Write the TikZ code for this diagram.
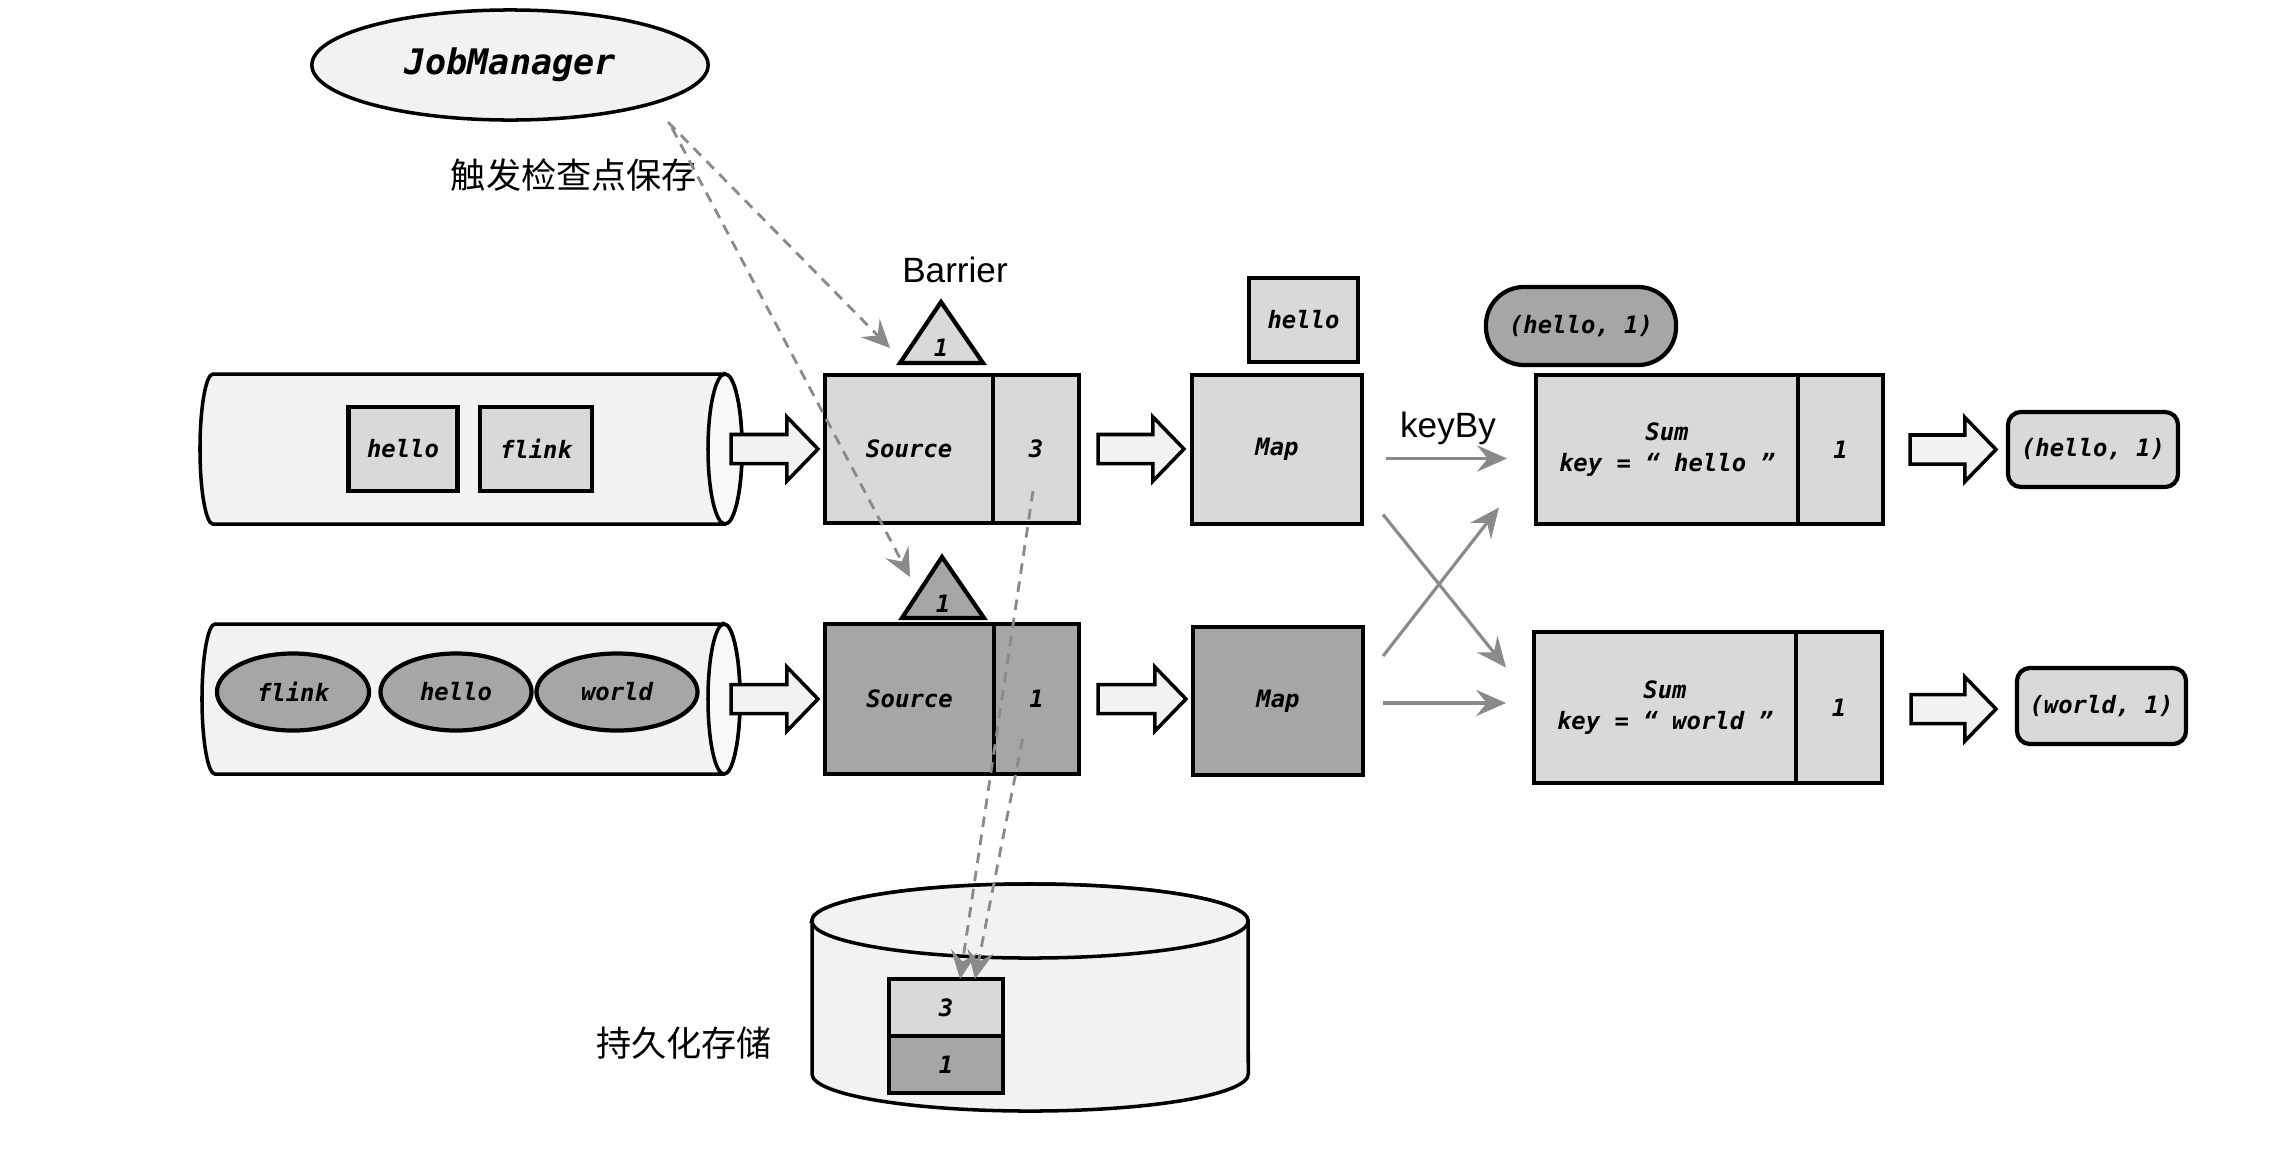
\documentclass[tikz,border=0pt]{standalone}
\usepackage{fontspec}
\usetikzlibrary{arrows.meta,calc,shapes.geometric}
\newfontfamily\monofont{DejaVu Sans Mono}
\newfontfamily\cjkfont{Noto Sans CJK SC}
\newfontfamily\labelfont{Liberation Sans}
\definecolor{boxlight}{HTML}{D9D9D9}
\definecolor{boxdark}{HTML}{A6A6A6}
\definecolor{pipefill}{HTML}{F2F2F2}
\definecolor{capfill}{HTML}{F8F8F8}
\definecolor{linkgray}{HTML}{8A8A8A}

% hollow block arrow between two points on the same level
\newcommand\fatarrow[2]{%
  \draw[fatarr] let \p1=#1, \p2=#2 in
    (\x1,\y1+0.145cm) -- (\x2-0.31cm,\y1+0.145cm) -- (\x2-0.31cm,\y1+0.32cm)
    -- (\x2,\y1) -- (\x2-0.31cm,\y1-0.32cm) -- (\x2-0.31cm,\y1-0.145cm)
    -- (\x1,\y1-0.145cm) -- cycle;}

\begin{document}
\begin{tikzpicture}[x=0.01cm,y=-0.01cm,
  every node/.style={inner sep=0pt, outer sep=0pt},
  codetext/.style={font=\monofont\bfseries\itshape\fontsize{6.8}{9}\selectfont},
  blk/.style={draw=black, line width=1.2pt, fill=boxlight, codetext, align=center},
  blkdark/.style={blk, fill=boxdark},
  token/.style={draw=black, line width=1.2pt, fill=boxdark, ellipse, codetext},
  outline/.style={draw=black, line width=1pt, fill=pipefill},
  fatarr/.style={draw=black, line width=1pt, fill=pipefill, line join=miter},
  flow/.style={draw=linkgray, line width=0.9pt, -{Stealth[length=8.5pt,width=7.5pt,inset=3pt]}},
  trig/.style={draw=linkgray, line width=0.8pt, dash pattern=on 3pt off 2.2pt,
               -{Stealth[length=8pt,width=7.5pt,inset=3pt]}},
  lbl/.style={font=\labelfont\fontsize{10}{12}\selectfont},
  cjklbl/.style={font=\cjkfont\fontsize{10}{12}\selectfont}]

\useasboundingbox (0,0) rectangle (2283,1157);

% ---------- job manager ----------
\node[draw=black, line width=1pt, fill=pipefill, ellipse,
      minimum width=3.96cm, minimum height=1.10cm,
      font=\monofont\bfseries\itshape\fontsize{10}{12}\selectfont] (jm) at (510,65) {JobManager};
\node[cjklbl] (trigger) at (574,175) {触发检查点保存};

% ---------- upper pipeline ----------
\draw[outline] (725,374) -- (213,374)
  arc[start angle=90, end angle=270, x radius=0.13cm, y radius=0.75cm]
  -- (725,524) arc[start angle=-90, end angle=90, x radius=0.17cm, y radius=0.75cm] -- cycle;
\draw[outline, fill=capfill] (725,449) ellipse[x radius=0.17cm, y radius=0.75cm];
\coordinate (pipeAout) at (731,449);
\node[blk, minimum width=1.09cm, minimum height=0.84cm] (tokA1) at (403,449) {hello};
\node[blk, minimum width=1.12cm, minimum height=0.84cm] (tokA2) at (536,449) {flink};

\node[blk, minimum width=1.68cm, minimum height=1.48cm] (srcA) at (909,449) {Source};
\node[blk, minimum width=0.86cm, minimum height=1.48cm] (stA) at (1036,449) {3};
\draw[draw=black, line width=1.2pt, fill=boxlight] (941,302) -- (983,363) -- (900,363) -- cycle;
\node[codetext] (trA) at (941,348) {1};
\node[lbl, anchor=base] (barrier) at (955,282) {Barrier};

\node[blk, minimum width=1.70cm, minimum height=1.49cm] (mapA) at (1277,449.5) {Map};
\node[blk, minimum width=1.09cm, minimum height=0.84cm] (recA) at (1303.5,320) {hello};

\node[blk, minimum width=2.62cm, minimum height=1.49cm] (sumA) at (1667,449.5) {Sum\\key = “ hello ”};
\node[blk, minimum width=0.85cm, minimum height=1.49cm] (stSumA) at (1840.5,449.5) {1};
\node[blkdark, minimum width=1.90cm, minimum height=0.78cm, rounded corners=0.38cm] (pairA) at (1581,326) {(hello, 1)};
\node[blk, minimum width=1.70cm, minimum height=0.75cm, rounded corners=0.13cm] (outA) at (2093,449.5) {(hello, 1)};

% ---------- lower pipeline ----------
\draw[outline] (724,624) -- (215,624)
  arc[start angle=90, end angle=270, x radius=0.13cm, y radius=0.75cm]
  -- (724,774) arc[start angle=-90, end angle=90, x radius=0.16cm, y radius=0.75cm] -- cycle;
\draw[outline, fill=capfill] (724,699) ellipse[x radius=0.16cm, y radius=0.75cm];
\coordinate (pipeBout) at (731,699);
\node[token, minimum width=1.52cm, minimum height=0.77cm] (tokB1) at (293,692) {flink};
\node[token, minimum width=1.51cm, minimum height=0.77cm] (tokB2) at (456,692) {hello};
\node[token, minimum width=1.61cm, minimum height=0.77cm] (tokB3) at (617,692) {world};

\node[blkdark, minimum width=1.69cm, minimum height=1.50cm] (srcB) at (909.5,699) {Source};
\node[blkdark, minimum width=0.85cm, minimum height=1.50cm] (stB) at (1036.5,699) {1};
\draw[draw=black, line width=1.2pt, fill=boxdark] (942,557) -- (984,618) -- (902,618) -- cycle;
\node[codetext] (trB) at (943,604) {1};

\node[blkdark, minimum width=1.70cm, minimum height=1.48cm] (mapB) at (1278,701) {Map};

\node[blk, minimum width=2.62cm, minimum height=1.51cm] (sumB) at (1665,707.5) {Sum\\key = “ world ”};
\node[blk, minimum width=0.86cm, minimum height=1.51cm] (stSumB) at (1839,707.5) {1};
\node[blk, minimum width=1.69cm, minimum height=0.76cm, rounded corners=0.13cm] (outB) at (2101.5,706) {(world, 1)};

% ---------- durable storage ----------
\draw[outline] (812,921) -- (812,1074)
  arc[start angle=180, end angle=360, x radius=2.18cm, y radius=0.37cm]
  -- (1248,921) arc[start angle=0, end angle=180, x radius=2.18cm, y radius=0.37cm] -- cycle;
\draw[outline] (1030,921) ellipse[x radius=2.18cm, y radius=0.37cm];
\node[blk, minimum width=1.14cm, minimum height=0.57cm] (snap3) at (946,1007.5) {3};
\node[blkdark, minimum width=1.14cm, minimum height=0.57cm] (snap1) at (946,1064.5) {1};
\node[cjklbl] (store) at (684,1043) {持久化存储};

% ---------- block arrows ----------
\fatarrow{(pipeAout)}{($(srcA.west)+(-7,0)$)}
\fatarrow{($(stA.east)+(19,0)$)}{($(mapA.west)+(-8,0)$)}
\fatarrow{($(stSumA.east)+(27,0)$)}{($(outA.west)+(-12,0)$)}
\fatarrow{(pipeBout)}{($(srcB.west)+(-7,0)$)}
\fatarrow{($(stB.east)+(19,0)$)}{($(mapB.west)+(-7,0)$)}
\fatarrow{($(stSumB.east)+(29,1.5)$)}{($(outB.west)+(-21,3)$)}

% ---------- keyBy shuffle ----------
\node[lbl, anchor=base] (keyby) at (1448,437) {keyBy};
\draw[flow] ($(mapA.east)+(24,9)$) -- ($(sumA.west)+(-29,9)$);
\draw[flow] ($(mapA.east)+(21,65)$) -- ($(sumB.west)+(-28,-40)$);
\draw[flow] ($(mapB.east)+(20,-45)$) -- ($(sumA.west)+(-37,58)$);
\draw[flow] ($(mapB.east)+(20,2)$) -- ($(sumB.west)+(-28,-4.5)$);

% ---------- checkpoint triggers and snapshots ----------
\draw[trig] ($(jm.center)+(158,57)$) -- ($(trA)+(-51,0)$);
\draw[trig] ($(jm.center)+(162,63)$) -- ($(trB)+(-33,-27)$);
\draw[trig] ($(stA)+(-3,42)$) -- ($(snap3.north)+(14,0)$);
\draw[trig] ($(stB)+(-14,40)$) -- ($(snap3.north)+(29,0)$);
\end{tikzpicture}
\end{document}
